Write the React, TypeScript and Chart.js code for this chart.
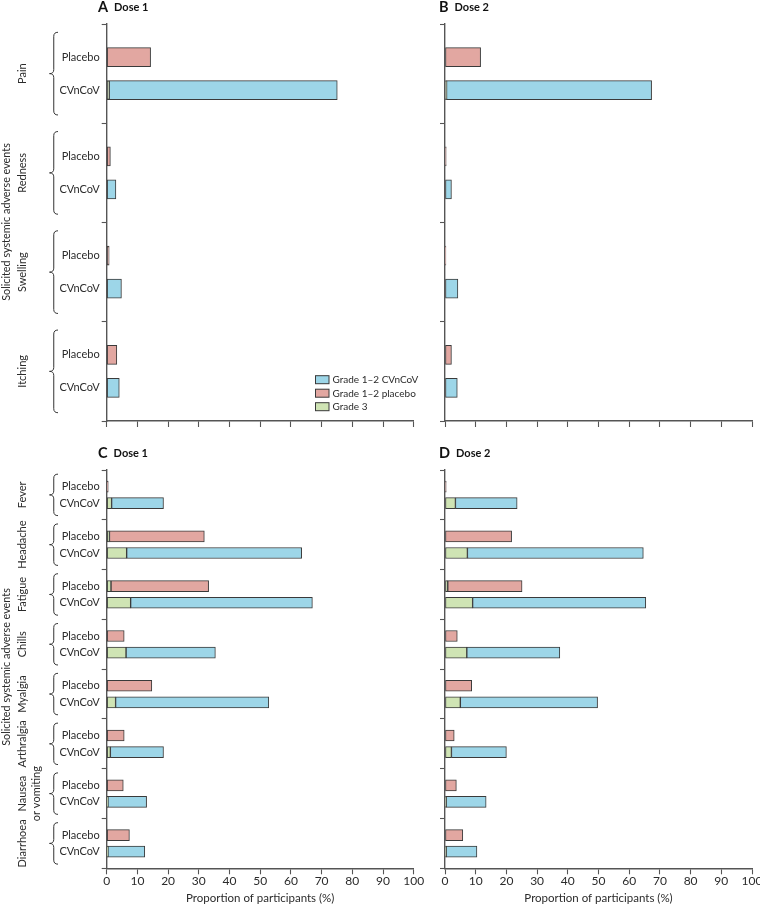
import React, { useEffect, useRef } from "react";
import { Chart, registerables } from "chart.js";
Chart.register(...registerables);

// ---------- data ----------
const localEvents = ["Pain", "Redness", "Swelling", "Itching"];
const systemicEvents = ["Fever", "Headache", "Fatigue", "Chills", "Myalgia", "Arthralgia", "Nausea|or vomiting", "Diarrhoea"];
const armLabels = ["Placebo", "CVnCoV"];
const xTickValues = [0, 10, 20, 30, 40, 50, 60, 70, 80, 90, 100];
const legendLabels = ["Grade 1–2 CVnCoV", "Grade 1–2 placebo", "Grade 3"];

// Panel A – dose 1, local
const aPlaceboGrade3 = [0, 0, 0, 0];
const aPlaceboGrade12 = [14.3, 1.2, 0.8, 3.3];
const aCvGrade3 = [0.8, 0, 0, 0];
const aCvGrade12 = [74.3, 3.0, 4.8, 4.1];
// Panel B – dose 2, local
const bPlaceboGrade3 = [0, 0, 0, 0];
const bPlaceboGrade12 = [11.6, 0.4, 0.3, 2.1];
const bCvGrade3 = [0.5, 0, 0, 0];
const bCvGrade12 = [66.8, 2.1, 4.2, 4.0];
// Panel C – dose 1, systemic
const cPlaceboGrade3 = [0, 0.9, 1.4, 0, 0, 0, 0, 0];
const cPlaceboGrade12 = [0.5, 30.9, 31.8, 5.7, 14.7, 5.7, 5.4, 7.4];
const cCvGrade3 = [1.6, 6.5, 7.8, 6.3, 2.9, 1.2, 0.4, 0.4];
const cCvGrade12 = [16.9, 57.0, 59.2, 29.1, 49.9, 17.3, 12.6, 12.0];
// Panel D – dose 2, systemic
const dPlaceboGrade3 = [0, 0, 0.9, 0, 0, 0, 0, 0];
const dPlaceboGrade12 = [0.4, 21.7, 24.2, 4.0, 8.7, 3.0, 3.7, 5.8];
const dCvGrade3 = [3.4, 7.3, 9.0, 7.1, 5.0, 2.1, 0.4, 0.4];
const dCvGrade12 = [20.1, 57.3, 56.4, 30.3, 44.7, 17.9, 13.0, 10.0];

// ---------- styles ----------
const FONT = "Lato, 'Open Sans', sans-serif";
const TEXT = "#2b2b2b";
const AXIS = "#555555";
const BLUE = "#9dd6e8";
const PINK = "#e2a7a1";
const GREEN = "#cfe4b4";
const EDGE = "#3a3a3a";

function buildDatasets(plG3: number[], plG12: number[], cvG3: number[], cvG12: number[]) {
  const g3: any[] = [];
  const cv: any[] = [];
  const pl: any[] = [];
  plG3.forEach((v, i) => { if (v > 0) g3.push({ x: v, y: 3 * i + 1 }); });
  cvG3.forEach((v, i) => { if (v > 0) g3.push({ x: v, y: 3 * i + 2 }); });
  cvG12.forEach((v, i) => { if (v > 0) cv.push({ x: v, y: 3 * i + 2 }); });
  plG12.forEach((v, i) => { if (v > 0) pl.push({ x: v, y: 3 * i + 1 }); });
  return [
    { label: legendLabels[2], data: g3, backgroundColor: GREEN, stack: "s" },
    { label: legendLabels[0], data: cv, backgroundColor: BLUE, stack: "s" },
    { label: legendLabels[1], data: pl, backgroundColor: PINK, stack: "s" },
  ];
}

function drawBrace(ctx: CanvasRenderingContext2D, xTip: number, xEnd: number, yTop: number, yBot: number) {
  const yMid = (yTop + yBot) / 2;
  const xStem = (xTip + xEnd) / 2;
  const r = 4;
  ctx.beginPath();
  ctx.moveTo(xEnd, yTop);
  ctx.quadraticCurveTo(xStem, yTop, xStem, yTop + r);
  ctx.lineTo(xStem, yMid - r);
  ctx.quadraticCurveTo(xStem, yMid, xTip, yMid);
  ctx.quadraticCurveTo(xStem, yMid, xStem, yMid + r);
  ctx.lineTo(xStem, yBot - r);
  ctx.quadraticCurveTo(xStem, yBot, xEnd, yBot);
  ctx.stroke();
}

function rotatedText(ctx: CanvasRenderingContext2D, text: string, x: number, y: number) {
  ctx.save();
  ctx.translate(x, y);
  ctx.rotate(-Math.PI / 2);
  ctx.textAlign = "center";
  ctx.textBaseline = "middle";
  ctx.fillText(text, 0, 0);
  ctx.restore();
}

interface PanelCfg {
  left: number; top: number; w: number; h: number;
  letter: string; dose: string; titleX: number; titleY: number;
  groups: string[]; left_side: boolean; bottomRow: boolean;
  padTop: number; padRight: number; yWidth: number; xHeight: number;
  barThickness: number; datasets: any[]; legend: boolean; yTitleCenter: number;
}

function makeConfig(cfg: PanelCfg): any {
  const n = cfg.groups.length * 3;
  const overlay = {
    id: "overlay" + cfg.letter,
    afterDraw(chart: any) {
      const ctx: CanvasRenderingContext2D = chart.ctx;
      const ys = chart.scales.y;
      ctx.save();
      // panel title
      ctx.fillStyle = "#111";
      ctx.textBaseline = "middle";
      ctx.textAlign = "left";
      ctx.font = `bold 14.5px ${FONT}`;
      ctx.fillText(cfg.letter, cfg.titleX, cfg.titleY);
      const lw = ctx.measureText(cfg.letter).width;
      ctx.font = `bold 11px ${FONT}`;
      ctx.fillText(cfg.dose, cfg.titleX + lw + 6, cfg.titleY + 0.5);
      if (cfg.left_side) {
        ctx.fillStyle = TEXT;
        ctx.strokeStyle = "#333";
        ctx.lineWidth = 1;
        cfg.groups.forEach((g, i) => {
          const c = ys.getPixelForValue(3 * i + 1.5);
          const half = Math.abs(ys.getPixelForValue(1.25) - ys.getPixelForValue(0));
          drawBrace(ctx, 49.5, 58, c - half, c + half);
          ctx.font = `11px ${FONT}`;
          const parts = g.split("|");
          if (parts.length === 1) rotatedText(ctx, parts[0], 22, c);
          else { rotatedText(ctx, parts[0], 22, c); rotatedText(ctx, parts[1], 36.5, c); }
        });
        ctx.font = `10.8px ${FONT}`;
        rotatedText(ctx, "Solicited systemic adverse events", 6.5, cfg.yTitleCenter);
      }
      if (cfg.legend) {
        const colors = [BLUE, PINK, GREEN];
        ctx.font = `10px ${FONT}`;
        ctx.textAlign = "left";
        ctx.textBaseline = "middle";
        legendLabels.forEach((t, i) => {
          const cy = 379.7 + i * 13.5;
          ctx.fillStyle = colors[i];
          ctx.fillRect(315.5, cy - 4, 13.5, 8);
          ctx.strokeStyle = EDGE;
          ctx.lineWidth = 1;
          ctx.strokeRect(315.5, cy - 4, 13.5, 8);
          ctx.fillStyle = TEXT;
          ctx.fillText(t, 332.5, cy + 0.5);
        });
      }
      ctx.restore();
    },
  };
  return {
    type: "bar",
    data: { datasets: cfg.datasets },
    plugins: [overlay],
    options: {
      indexAxis: "y",
      animation: false,
      responsive: false,
      maintainAspectRatio: false,
      events: [],
      layout: { padding: { top: cfg.padTop, right: cfg.padRight, bottom: 0, left: 0 } },
      plugins: { legend: { display: false }, tooltip: { enabled: false }, title: { display: false } },
      datasets: {
        bar: {
          barThickness: cfg.barThickness,
          borderWidth: 1,
          borderColor: EDGE,
          borderSkipped: false,
        },
      },
      scales: {
        x: {
          type: "linear",
          min: 0,
          max: 100,
          stacked: true,
          position: "bottom",
          offset: false,
          afterBuildTicks: (s: any) => { s.ticks = xTickValues.map((v) => ({ value: v })); },
          afterFit: (s: any) => { s.height = cfg.xHeight; s.paddingLeft = 0; s.paddingRight = 0; },
          ticks: {
            display: cfg.bottomRow,
            autoSkip: false,
            maxRotation: 0,
            padding: 0,
            color: TEXT,
            font: { family: FONT, size: 12 },
          },
          grid: { offset: false, drawOnChartArea: false, drawTicks: true, tickLength: 6, tickColor: AXIS, tickWidth: 1.1 },
          border: { color: AXIS, width: 1.4 },
          title: {
            display: cfg.bottomRow,
            text: "Proportion of participants (%)",
            color: TEXT,
            font: { family: FONT, size: 11.5 },
            padding: { top: 0, bottom: -1.5 },
          },
        },
        y: {
          type: "linear",
          min: 0,
          max: n,
          reverse: true,
          stacked: true,
          offset: false,
          afterBuildTicks: (s: any) => {
            const t: any[] = [];
            for (let v = 0; v <= n; v++) t.push({ value: v });
            s.ticks = t;
          },
          afterFit: (s: any) => { s.width = cfg.yWidth; s.paddingTop = 0; s.paddingBottom = 0; },
          ticks: {
            autoSkip: false,
            padding: 2,
            color: TEXT,
            font: { family: FONT, size: 11 },
            callback: (v: number) => (cfg.left_side ? (v % 3 === 1 ? armLabels[0] : v % 3 === 2 ? armLabels[1] : "") : ""),
          },
          grid: {
            offset: false,
            drawOnChartArea: false,
            drawTicks: true,
            tickLength: 5,
            tickWidth: 1.1,
            tickColor: (c: any) => (c.tick && c.tick.value % 3 === 0 ? AXIS : "rgba(0,0,0,0)"),
          },
          border: { color: AXIS, width: 1.4 },
        },
      },
    },
  };
}

const panels: PanelCfg[] = [
  {
    left: 0, top: 0, w: 430, h: 440, letter: "A", dose: "Dose 1", titleX: 98, titleY: 7,
    groups: localEvents, left_side: true, bottomRow: false,
    padTop: 24, padRight: 16.3, yWidth: 106.7, xHeight: 19, barThickness: 19,
    datasets: buildDatasets(aPlaceboGrade3, aPlaceboGrade12, aCvGrade3, aCvGrade12),
    legend: true, yTitleCenter: 222,
  },
  {
    left: 430, top: 0, w: 330, h: 440, letter: "B", dose: "Dose 2", titleX: 9, titleY: 7,
    groups: localEvents, left_side: false, bottomRow: false,
    padTop: 24, padRight: 8, yWidth: 15, xHeight: 19, barThickness: 19,
    datasets: buildDatasets(bPlaceboGrade3, bPlaceboGrade12, bCvGrade3, bCvGrade12),
    legend: false, yTitleCenter: 0,
  },
  {
    left: 0, top: 440, w: 430, h: 464, letter: "C", dose: "Dose 1", titleX: 98, titleY: 13,
    groups: systemicEvents, left_side: true, bottomRow: true,
    padTop: 30, padRight: 16.3, yWidth: 106.7, xHeight: 35.7, barThickness: 11,
    datasets: buildDatasets(cPlaceboGrade3, cPlaceboGrade12, cCvGrade3, cCvGrade12),
    legend: false, yTitleCenter: 227,
  },
  {
    left: 430, top: 440, w: 330, h: 464, letter: "D", dose: "Dose 2", titleX: 9, titleY: 13,
    groups: systemicEvents, left_side: false, bottomRow: true,
    padTop: 30, padRight: 8, yWidth: 15, xHeight: 35.7, barThickness: 11,
    datasets: buildDatasets(dPlaceboGrade3, dPlaceboGrade12, dCvGrade3, dCvGrade12),
    legend: false, yTitleCenter: 0,
  },
];

function Panel({ cfg }: { cfg: PanelCfg }) {
  const ref = useRef<HTMLCanvasElement | null>(null);
  useEffect(() => {
    if (!ref.current) return;
    const chart = new Chart(ref.current, makeConfig(cfg));
    return () => chart.destroy();
  }, [cfg]);
  return (
    <canvas
      ref={ref}
      width={cfg.w}
      height={cfg.h}
      style={{ position: "absolute", left: cfg.left, top: cfg.top, width: cfg.w, height: cfg.h, display: "block" }}
    />
  );
}

export default function App() {
  return (
    <div style={{ position: "absolute", left: 0, top: 0, width: 760, height: 904, background: "#fff", overflow: "hidden" }}>
      {panels.map((p) => (
        <Panel key={p.letter} cfg={p} />
      ))}
    </div>
  );
}
